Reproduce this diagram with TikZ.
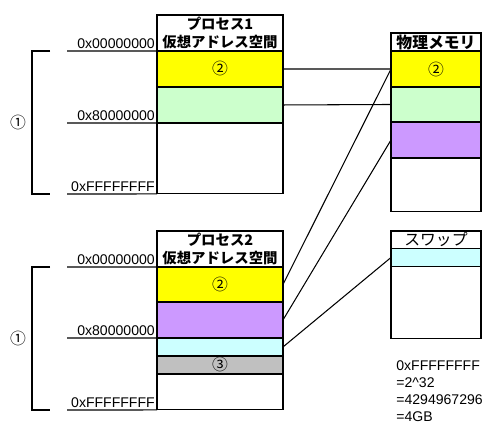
\documentclass[tikz,border=0pt]{standalone}
\usepackage{fontspec}
\setmainfont{Liberation Sans}
\newfontfamily\jp{Noto Sans CJK JP}
\usetikzlibrary{positioning}
\definecolor{memyellow}{RGB}{255,255,0}
\definecolor{memgreen}{RGB}{204,255,204}
\definecolor{mempurple}{RGB}{204,153,255}
\definecolor{memcyan}{RGB}{204,255,255}
\definecolor{memgrey}{RGB}{192,192,192}

\begin{document}
\begin{tikzpicture}[x=0.02cm, y=-0.02cm,
    region/.style={rectangle, draw=black, line width=0.6pt, inner sep=0pt,
        outer sep=0pt, minimum width=2.52cm, font=\jp\fontsize{9}{9}\selectfont},
    physreg/.style={region, minimum width=1.80cm},
    title/.style={font=\jp\bfseries\fontsize{8.2}{10}\selectfont, align=center},
    addr/.style={anchor=south east, inner sep=1pt, font=\fontsize{8}{9}\selectfont},
    link/.style={line width=0.6pt, black}
]
    \useasboundingbox (0,0) rectangle (497,439);

    % process 1
    \node[region, title, anchor=north west, minimum height=0.72cm] (p1t) at (157,15) {プロセス1\\仮想アドレス空間};
    \node[region, fill=memyellow, minimum height=0.72cm, below=0pt of p1t] (p1a) {②};
    \node[region, fill=memgreen, minimum height=0.72cm, below=0pt of p1a] (p1b) {};
    \node[region, minimum height=1.42cm, below=0pt of p1b] (p1c) {};

    % process 2
    \node[region, title, anchor=north west, minimum height=0.72cm] (p2t) at (157,231) {プロセス2\\仮想アドレス空間};
    \node[region, fill=memyellow, minimum height=0.70cm, below=0pt of p2t] (p2a) {②};
    \node[region, fill=mempurple, minimum height=0.72cm, below=0pt of p2a] (p2b) {};
    \node[region, fill=memcyan, minimum height=0.36cm, below=0pt of p2b] (p2c) {};
    \node[region, fill=memgrey, minimum height=0.36cm, below=0pt of p2c] (p2d) {③};
    \node[region, minimum height=0.72cm, below=0pt of p2d] (p2e) {};

    % physical memory
    \node[physreg, title, anchor=north west, minimum height=0.36cm, font=\jp\bfseries\fontsize{9}{10}\selectfont] (pmt) at (391,33) {物理メモリ};
    \node[physreg, fill=memyellow, minimum height=0.72cm, below=0pt of pmt] (pma) {②};
    \node[physreg, fill=memgreen, minimum height=0.70cm, below=0pt of pma] (pmb) {};
    \node[physreg, fill=mempurple, minimum height=0.72cm, below=0pt of pmb] (pmc) {};
    \node[physreg, minimum height=1.08cm, below=0pt of pmc] (pmd) {};

    % swap
    \node[physreg, anchor=north west, minimum height=0.35cm, font=\jp\fontsize{9}{10}\selectfont] (swt) at (391,231) {スワップ};
    \node[physreg, fill=memcyan, minimum height=0.36cm, below=0pt of swt] (swa) {};
    \node[physreg, minimum height=1.44cm, below=0pt of swa] (swb) {};

    % address marks
    \coordinate (a10) at (67,51);
    \coordinate (a18) at (67,123);
    \coordinate (a1f) at (67,194);
    \coordinate (a20) at (67,267);
    \coordinate (a28) at (67,338);
    \coordinate (a2f) at (67,410);
    \draw[line width=0.6pt] (a10) -- (p1a.north west) node[addr] {0x00000000};
    \draw[line width=0.6pt] (a18) -- (p1c.north west) node[addr] {0x80000000};
    \draw[line width=0.6pt] (a1f) -- (p1c.south west) node[addr] {0xFFFFFFFF};
    \draw[line width=0.6pt] (a20) -- (p2a.north west) node[addr] {0x00000000};
    \draw[line width=0.6pt] (a28) -- (p2c.north west) node[addr] {0x80000000};
    \draw[line width=0.6pt] (a2f) -- (p2e.south west) node[addr] {0xFFFFFFFF};

    % brackets
    \draw[line width=0.6pt] (50,51) -- (32,51) -- (32,194) -- (50,194);
    \draw[line width=0.6pt] (50,267) -- (32,267) -- (32,410) -- (50,410);
    \node[font=\jp\fontsize{9}{10}\selectfont] (r1) at (18,122) {①};
    \node[font=\jp\fontsize{9}{10}\selectfont] (r2) at (18,338) {①};

    % mappings
    \draw[link] (p1a.east) -- (pma.west);
    \draw[link] (p1b.east) -- (pmb.west);
    \draw[link] (p2a.east) -- (pma.west);
    \draw[link] (p2b.east) -- (pmc.west);
    \draw[link] (p2c.east) -- (swa.west);

    % note
    \node[anchor=north west, align=left, inner sep=0pt, font=\fontsize{8}{9.8}\selectfont] (note) at (396,360)
        {0xFFFFFFFF\\=2\^{}32\\=4294967296\\=4GB};
\end{tikzpicture}
\end{document}
